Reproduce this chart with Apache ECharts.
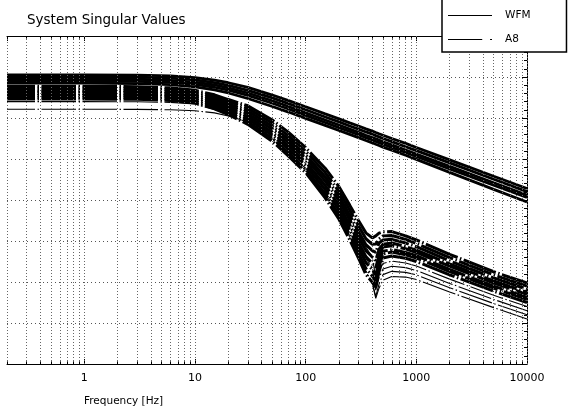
<!DOCTYPE html>
<html>
<head>
<meta charset="utf-8">
<script src="https://cdn.jsdelivr.net/npm/echarts@6/dist/echarts.min.js"></script>
<style>html,body{margin:0;padding:0;background:#fff}#c{width:571px;height:412px}</style>
</head>
<body>
<div id="c"></div>
<script>
// ---- data ----
const freqs = [0.2, 1, 3, 6, 10, 15, 20, 30, 50, 70, 100, 150, 200, 250, 300, 350, 400, 430, 460, 500, 600, 800, 1000, 2000, 5000, 10000];

// WFM singular values (solid)
const wfm1 = [41.0, 41.0, 40.9, 40.5, 39.7, 38.5, 37.2, 34.9, 31.2, 28.5, 25.5, 22.0, 19.6, 17.6, 16.1, 14.7, 13.6, 12.9, 12.3, 11.6, 10.0, 7.6, 5.6, -0.4, -8.4, -14.4];
const wfm2 = [40.0, 40.0, 39.9, 39.5, 38.6, 37.3, 35.9, 33.5, 29.8, 27.0, 24.0, 20.5, 18.1, 16.1, 14.6, 13.2, 12.1, 11.4, 10.8, 10.0, 8.5, 6.0, 4.1, -1.9, -9.9, -15.9];
const wfm3 = [39.0, 39.0, 38.9, 38.4, 37.5, 36.1, 34.7, 32.2, 28.4, 25.6, 22.5, 19.0, 16.6, 14.6, 13.0, 11.6, 10.5, 9.8, 9.2, 8.4, 6.9, 4.4, 2.4, -3.6, -11.6, -17.6];
const wfm4 = [38.0, 38.0, 37.9, 37.4, 36.4, 35.0, 33.6, 31.0, 27.2, 24.4, 21.3, 17.8, 15.3, 13.4, 11.8, 10.4, 9.3, 8.6, 8.0, 7.2, 5.7, 3.2, 1.2, -4.8, -12.8, -18.8];
const wfm5 = [37.0, 37.0, 36.8, 36.3, 35.2, 33.7, 32.2, 29.5, 25.6, 22.9, 19.8, 16.4, 13.9, 12.0, 10.4, 9.0, 7.9, 7.2, 6.6, 5.8, 4.3, 1.8, -0.2, -6.5, -14.8, -21.0];

// A8 singular values (dashed) - thick group
const a8_1 = [35.5, 35.5, 35.3, 34.7, 33.5, 31.3, 29.0, 26.0, 19.0, 13.0, 5.5, -4.5, -13.5, -22.5, -30.0, -36.0, -38.5, -37.5, -36.2, -35.5, -35.4, -37.5, -39.5, -46.5, -55.0, -60.5];
const a8_2 = [34.6, 34.6, 34.4, 33.8, 32.6, 30.3, 28.0, 24.7, 17.5, 11.3, 3.8, -6.6, -15.8, -24.9, -32.6, -38.9, -41.6, -41.5, -39.0, -37.5, -37.3, -39.2, -41.2, -48.1, -56.5, -62.0];
const a8_3 = [33.7, 33.7, 33.5, 32.9, 31.7, 29.4, 26.9, 23.4, 16.0, 9.7, 2.0, -8.6, -18.0, -27.3, -35.3, -41.8, -44.7, -45.5, -41.0, -39.5, -39.2, -41.0, -42.8, -49.7, -58.0, -63.5];
const a8_4 = [32.8, 32.8, 32.6, 32.0, 30.8, 28.4, 25.9, 22.1, 14.5, 8.0, 0.3, -10.7, -20.3, -29.7, -37.9, -44.7, -47.8, -49.5, -44.0, -41.6, -41.0, -42.7, -44.5, -51.2, -59.5, -65.0];
const a8_5 = [31.9, 31.9, 31.7, 31.1, 29.9, 27.4, 24.8, 20.8, 13.0, 6.4, -1.5, -12.8, -22.6, -32.1, -40.5, -47.6, -50.9, -53.0, -47.0, -42.9, -42.3, -43.8, -45.6, -52.3, -60.5, -66.0];
const a8_6 = [31.0, 31.0, 30.8, 30.2, 29.0, 26.5, 23.8, 19.5, 11.6, 4.7, -3.2, -14.9, -24.9, -34.6, -43.2, -50.5, -54.0, -56.5, -50.0, -45.0, -44.2, -45.6, -47.2, -53.9, -62.0, -67.5];
const a8_7 = [30.1, 30.1, 29.9, 29.3, 28.1, 25.5, 22.8, 18.2, 10.1, 3.0, -5.0, -16.9, -27.1, -37.0, -45.8, -53.4, -57.1, -59.5, -52.5, -46.3, -45.4, -46.7, -48.3, -54.9, -63.0, -68.5];
const a8_8 = [29.3, 29.3, 29.1, 28.5, 27.3, 24.5, 21.7, 16.9, 8.6, 1.4, -6.7, -19.0, -29.4, -39.4, -48.4, -56.3, -60.2, -62.5, -55.0, -48.3, -47.3, -48.4, -50.0, -56.5, -64.5, -70.0];
// A8 - thin group
const a8_t1 = [33.0, 33.0, 32.8, 32.2, 31.0, 29.0, 26.4, 23.0, 15.5, 9.0, 1.2, -9.5, -19.0, -28.5, -36.5, -43.0, -48.0, -58.0, -54.0, -51.0, -49.8, -50.7, -52.2, -58.6, -66.5, -72.0];
const a8_t2 = [31.5, 31.5, 31.3, 30.7, 29.5, 27.0, 24.4, 20.3, 12.5, 5.8, -2.0, -13.5, -23.5, -33.0, -41.5, -48.5, -53.0, -64.0, -58.0, -53.7, -52.3, -53.0, -54.4, -60.7, -68.5, -74.0];
const a8_t3 = [28.0, 28.0, 27.9, 27.6, 26.8, 24.2, 21.8, 17.5, 9.0, 2.0, -5.5, -18.0, -28.5, -38.5, -47.5, -55.0, -60.5, -67.0, -61.0, -56.4, -54.8, -55.3, -56.5, -62.8, -70.5, -76.0];
const a8_t4 = [24.3, 24.3, 24.2, 24.0, 23.5, 22.5, 21.0, 18.0, 10.0, 2.5, -4.5, -17.0, -27.5, -37.5, -46.5, -54.5, -60.5, -68.0, -63.0, -59.1, -57.3, -57.6, -58.8, -64.9, -72.5, -78.0];

// axis / grid tick values
const majorTicks = [1, 10, 100, 1000, 10000];
const minorTicks = [0.2, 0.3, 0.4, 0.5, 0.6, 0.7, 0.8, 0.9,
  2, 3, 4, 5, 6, 7, 8, 9, 20, 30, 40, 50, 60, 70, 80, 90,
  200, 300, 400, 500, 600, 700, 800, 900, 2000, 3000, 4000, 5000, 6000, 7000, 8000, 9000];
const yMin = -100, yMax = 60, yStep = 20;

// ---- build ----
const FONT = 'DejaVu Sans';
const pairs = v => freqs.map((f, i) => [f, v[i]]);
const wfmSets = [wfm1, wfm2, wfm3, wfm4, wfm5];
const a8Thick = [a8_1, a8_2, a8_3, a8_4, a8_5, a8_6, a8_7, a8_8];
const a8Thin = [a8_t1, a8_t2, a8_t3, a8_t4];
const dashPat = [34.5, 2.5, 1.5, 2.5];

const series = [];
const vLines = majorTicks.concat(minorTicks).map(f => ({ xAxis: f }));
const tickSegs = [];
minorTicks.forEach(f => {
  tickSegs.push([{ coord: [f, yMin] }, { coord: [f, yMin + 1.3] }]);
  tickSegs.push([{ coord: [f, yMax] }, { coord: [f, yMax - 1.3] }]);
});
series.push({
  name: 'grid', type: 'line', data: [], silent: true, z: 1,
  markLine: {
    silent: true, symbol: 'none', animation: false,
    label: { show: false },
    lineStyle: { color: '#666', width: 1, type: [1, 2] },
    data: vLines
  }
});
series.push({
  name: 'ticks', type: 'line', data: [], silent: true, z: 3,
  markLine: {
    silent: true, symbol: 'none', animation: false,
    label: { show: false },
    lineStyle: { color: '#000', width: 1, type: 'solid' },
    data: tickSegs
  }
});
wfmSets.forEach(v => series.push({
  name: 'WFM', type: 'line', data: pairs(v), symbol: 'none', z: 2, color: '#000',
  lineStyle: { color: '#000', width: 2.8, type: 'solid' }
}));
a8Thick.forEach(v => series.push({
  name: 'A8', type: 'line', data: pairs(v), symbol: 'none', z: 2, color: '#000',
  lineStyle: { color: '#000', width: 3, type: dashPat, dashOffset: 6.5 }
}));
a8Thin.forEach(v => series.push({
  name: 'A8', type: 'line', data: pairs(v), symbol: 'none', z: 2, color: '#000',
  lineStyle: { color: '#000', width: 1.1, type: dashPat, dashOffset: 6.5 }
}));

const isPow10 = v => Math.abs(Math.log10(v) - Math.round(Math.log10(v))) < 1e-6;

const option = {
  animation: false,
  backgroundColor: '#fff',
  textStyle: { fontFamily: FONT, color: '#000' },
  title: [
    { text: 'System Singular Values', left: 27, top: 13, padding: 0,
      textStyle: { fontFamily: FONT, fontSize: 13.5, fontWeight: 'normal', color: '#000' } },
    { text: 'Frequency [Hz]', left: 84, top: 396, padding: 0,
      textStyle: { fontFamily: FONT, fontSize: 10.5, fontWeight: 'normal', color: '#000' } }
  ],
  legend: {
    data: [
      { name: 'WFM', icon: 'path://M0,0h44v1h-44z' },
      { name: 'A8', icon: 'path://M0,0h35v1h-35zM43,0h2v1h-2z' }
    ],
    orient: 'vertical', left: 442, top: -2,
    itemWidth: 44, itemHeight: 1, itemGap: 11,
    padding: [11, 36, 6, 6],
    backgroundColor: '#fff', borderColor: '#000', borderWidth: 1.5, borderRadius: 0,
    itemStyle: { color: '#000', borderWidth: 0 },
    selectedMode: false,
    textStyle: { fontFamily: FONT, fontSize: 10.5, color: '#000', padding: [0, 0, 0, 8], lineHeight: 13 },
    z: 10
  },
  grid: { left: 7, right: 44, top: 36, bottom: 48, containLabel: false, outerBoundsMode: 'none' },
  xAxis: [
    { type: 'log', position: 'bottom', min: 0.2, max: 10000, logBase: 10,
      axisLine: { show: true, onZero: false, lineStyle: { color: '#000', width: 1 } },
      axisTick: { show: true, inside: true, length: 5, lineStyle: { color: '#000' } },
      minorTick: { show: false },
      axisLabel: { show: true, color: '#000', fontFamily: FONT, fontSize: 11, margin: 9,
        formatter: v => isPow10(v) ? String(Math.round(v)) : '', showMinLabel: false },
      splitLine: { show: false } },
    { type: 'log', position: 'top', min: 0.2, max: 10000, logBase: 10,
      axisLine: { show: true, onZero: false, lineStyle: { color: '#000', width: 1 } },
      axisTick: { show: true, inside: true, length: 5, lineStyle: { color: '#000' } },
      axisLabel: { show: false }, splitLine: { show: false } }
  ],
  yAxis: [
    { type: 'value', min: yMin, max: yMax, interval: yStep, position: 'left',
      axisLine: { show: false }, axisTick: { show: false }, axisLabel: { show: false },
      splitLine: { show: true, lineStyle: { color: '#555', width: 1, type: [1, 3] } } },
    { type: 'value', min: yMin, max: yMax, interval: yStep, position: 'right',
      axisLine: { show: true, onZero: false, lineStyle: { color: '#000', width: 1 } },
      axisTick: { show: true, inside: true, length: 5, lineStyle: { color: '#000' } },
      minorTick: { show: true, splitNumber: 5, length: 3, lineStyle: { color: '#000' } },
      axisLabel: { show: false }, splitLine: { show: false } }
  ],
  series: series
};

const chart = echarts.init(document.getElementById('c'), null, { renderer: 'canvas' });
chart.setOption(option);
</script>
</body>
</html>
